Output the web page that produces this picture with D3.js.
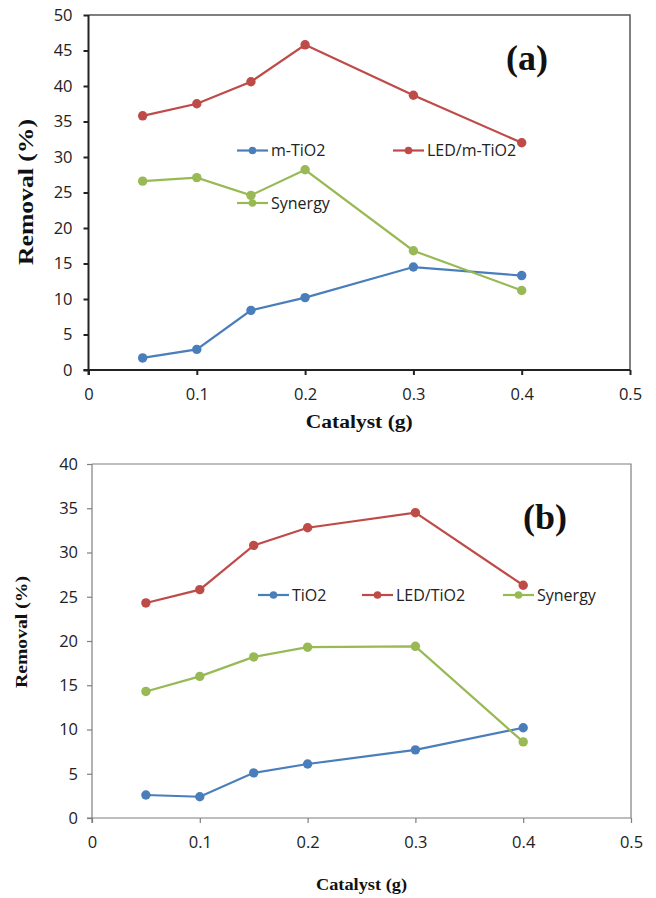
<!DOCTYPE html>
<html>
<head>
<meta charset="utf-8">
<script src="https://cdn.jsdelivr.net/npm/d3@7"></script>
<style>
  html, body { margin: 0; padding: 0; background: #fff; }
  svg { display: block; }
  .tick text { font-family: "Open Sans", sans-serif; fill: #222; }
</style>
</head>
<body>
<svg id="chart" width="656" height="898"></svg>
<script>
// ---------- data ----------
const catalyst = [0.05, 0.1, 0.15, 0.2, 0.3, 0.4];
const xTicks = [0, 0.1, 0.2, 0.3, 0.4, 0.5];

// Panel (a)
const aNames = ["m-TiO2", "LED/m-TiO2", "Synergy"];
const aMTiO2 = [1.7, 2.9, 8.4, 10.2, 14.5, 13.3];
const aLEDmTiO2 = [35.8, 37.5, 40.6, 45.8, 38.7, 32.0];
const aSynergy = [26.6, 27.1, 24.6, 28.2, 16.8, 11.2];
const aYTicks = [0, 5, 10, 15, 20, 25, 30, 35, 40, 45, 50];

// Panel (b)
const bNames = ["TiO2", "LED/TiO2", "Synergy"];
const bTiO2 = [2.6, 2.4, 5.1, 6.1, 7.7, 10.2];
const bLEDTiO2 = [24.3, 25.8, 30.8, 32.8, 34.5, 26.3];
const bSynergy = [14.3, 16.0, 18.2, 19.3, 19.4, 8.6];
const bYTicks = [0, 5, 10, 15, 20, 25, 30, 35, 40];

const colors = ["#4a7ebb", "#be4b48", "#98b954"];

const svg = d3.select("#chart");

function panel(cfg) {
  const g = svg.append("g");
  const x = d3.scaleLinear().domain([0, 0.5]).range([cfg.left, cfg.right]);
  const y = d3.scaleLinear().domain([0, cfg.yMax]).range([cfg.bottom, cfg.top]);

  // frame (top/right)
  g.append("path")
    .attr("d", `M${cfg.left},${cfg.top}H${cfg.right}V${cfg.bottom}`)
    .attr("fill", "none").attr("stroke", cfg.frameColor).attr("stroke-width", cfg.frameWidth);

  // y axis
  const yAxis = g.append("g").attr("transform", `translate(${cfg.left},0)`)
    .call(d3.axisLeft(y).tickValues(cfg.yTicks).tickSize(5).tickPadding(cfg.yPad).tickFormat(d3.format("d")));
  // x axis
  const xAxis = g.append("g").attr("transform", `translate(0,${cfg.bottom})`)
    .call(d3.axisBottom(x).tickValues(xTicks).tickSize(5).tickPadding(cfg.xPad).tickFormat(d => d === 0 ? "0" : d3.format(".1f")(d)));
  [yAxis, xAxis].forEach(a => {
    a.select(".domain").attr("stroke", cfg.axisColor).attr("stroke-width", cfg.axisWidth);
    a.selectAll(".tick line").attr("stroke", cfg.axisColor).attr("stroke-width", cfg.axisWidth);
    a.selectAll(".tick text").style("font-size", "16.5px").attr("fill", "#222");
  });
  yAxis.select(".domain").attr("d", `M0,${cfg.top}V${cfg.bottom + 5}`);
  xAxis.select(".domain").attr("d", `M${cfg.left - 5},0H${cfg.right}`);

  // series
  const line = d3.line().x((d, i) => x(catalyst[i])).y(d => y(d));
  cfg.series.forEach((s, k) => {
    g.append("path").datum(s).attr("d", line)
      .attr("fill", "none").attr("stroke", colors[k]).attr("stroke-width", 2.2);
  });
  cfg.series.forEach((s, k) => {
    g.selectAll(null).data(s).join("circle")
      .attr("cx", (d, i) => x(catalyst[i])).attr("cy", d => y(d)).attr("r", 4.7)
      .attr("fill", colors[k]);
  });

  // legend
  cfg.legend.forEach((L, k) => {
    const lg = g.append("g");
    lg.append("line").attr("x1", L.x).attr("x2", L.x + 31).attr("y1", L.y).attr("y2", L.y)
      .attr("stroke", colors[k]).attr("stroke-width", 2.2);
    lg.append("circle").attr("cx", L.x + 15.5).attr("cy", L.y).attr("r", 3.8).attr("fill", colors[k]);
    lg.append("text").attr("x", L.x + 34).attr("y", L.y + 5.5)
      .attr("font-family", "Open Sans, sans-serif").attr("font-size", "16px").attr("fill", "#222")
      .text(cfg.names[k]);
  });

  // panel letter
  g.append("text").attr("x", cfg.letterX).attr("y", cfg.letterY).attr("text-anchor", "middle")
    .attr("font-family", "Liberation Serif, serif").attr("font-weight", "bold").attr("font-size", cfg.letterSize + "px")
    .attr("fill", "#111").text(cfg.letter);

  // axis titles
  g.append("text").attr("x", (cfg.left + cfg.right) / 2).attr("y", cfg.xTitleY).attr("text-anchor", "middle")
    .attr("font-family", "Liberation Serif, serif").attr("font-weight", "bold").attr("font-size", cfg.xTitleSize + "px")
    .attr("textLength", cfg.xTitleLen).attr("lengthAdjust", "spacingAndGlyphs")
    .attr("fill", "#111").text("Catalyst (g)");
  g.append("text").attr("transform", `translate(${cfg.yTitleX},${cfg.yTitleY}) rotate(-90)`).attr("text-anchor", "middle")
    .attr("font-family", "Liberation Serif, serif").attr("font-weight", "bold").attr("font-size", cfg.yTitleSize + "px")
    .attr("textLength", cfg.yTitleLen).attr("lengthAdjust", "spacingAndGlyphs")
    .attr("fill", "#111").text("Removal (%)");
}

panel({
  left: 88.5, right: 630, top: 15, bottom: 370, yMax: 50, yTicks: aYTicks,
  axisColor: "#222", axisWidth: 2, frameColor: "#555", frameWidth: 1.5, yPad: 11, xPad: 13,
  series: [aMTiO2, aLEDmTiO2, aSynergy], names: aNames,
  legend: [{x: 237, y: 150.5}, {x: 393, y: 150.5}, {x: 237, y: 203}],
  letter: "(a)", letterX: 527, letterY: 70, letterSize: 36,
  xTitleY: 428, xTitleSize: 18, xTitleLen: 107,
  yTitleX: 33, yTitleY: 192, yTitleSize: 20, yTitleLen: 146
});

panel({
  left: 92, right: 631, top: 464, bottom: 818, yMax: 40, yTicks: bYTicks,
  axisColor: "#7f7f7f", axisWidth: 1.2, frameColor: "#7f7f7f", frameWidth: 1.2, yPad: 9, xPad: 13,
  series: [bTiO2, bLEDTiO2, bSynergy], names: bNames,
  legend: [{x: 258, y: 595}, {x: 362, y: 595}, {x: 503, y: 595}],
  letter: "(b)", letterX: 545, letterY: 529, letterSize: 36,
  xTitleY: 890, xTitleSize: 16, xTitleLen: 91,
  yTitleX: 27, yTitleY: 632, yTitleSize: 16, yTitleLen: 112
});
</script>
</body>
</html>
